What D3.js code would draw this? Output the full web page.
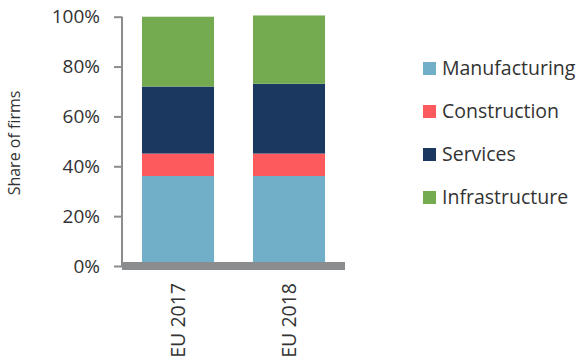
<!DOCTYPE html>
<html><head><meta charset="utf-8">
<script src="https://cdn.jsdelivr.net/npm/d3@7"></script>
<style>body{margin:0;background:#fff}svg{display:block}text{font-family:"Open Sans",sans-serif;fill:#333}</style>
</head><body>
<script>
const categories = ["EU 2017", "EU 2018"];
const seriesNames = ["Manufacturing", "Construction", "Services", "Infrastructure"];
const manufacturing = [36.1, 36.1];
const construction = [9.0, 9.0];
const services = [26.9, 28.0];
const infrastructure = [28.0, 27.4];
const yTicks = [0, 20, 40, 60, 80, 100];
const colors = ["#71afc8", "#fd5a5e", "#1a3860", "#74ab50"];

const W = 580, H = 361;
const svg = d3.select("body").append("svg").attr("width", W).attr("height", H);
const rows = categories.map((c, i) => ({cat: c, Manufacturing: manufacturing[i], Construction: construction[i], Services: services[i], Infrastructure: infrastructure[i]}));
const stack = d3.stack().keys(seriesNames)(rows);

const x = d3.scaleBand().domain(categories).range([122, 345]).paddingInner(0.351).paddingOuter(0.18);
const y = d3.scaleLinear().domain([0, 100]).range([266, 16.7]);

// bars
svg.append("g").selectAll("g").data(stack).join("g").attr("fill", (d, i) => colors[i])
  .selectAll("rect").data(d => d).join("rect")
  .attr("x", d => x(d.data.cat)).attr("width", x.bandwidth())
  .attr("y", d => y(d[1])).attr("height", d => y(d[0]) - y(d[1]));

// y axis
const yAxis = svg.append("g").attr("transform", "translate(122,0)")
  .call(d3.axisLeft(y).tickValues(yTicks).tickFormat(d => d + "%").tickSize(8).tickPadding(14));
yAxis.select(".domain").attr("stroke", "#8a8c8e").attr("stroke-width", 2).attr("d", "M0," + y(100) + "V" + y(0));
yAxis.selectAll(".tick line").attr("stroke", "#8a8c8e").attr("stroke-width", 2);
yAxis.selectAll(".tick text").attr("font-size", 19).attr("font-family", "Open Sans").attr("fill", "#333");

// x axis thick baseline
svg.append("line").attr("x1", 122).attr("x2", 345).attr("y1", y(0)).attr("y2", y(0))
  .attr("stroke", "#8a8c8e").attr("stroke-width", 8);

// x labels
svg.append("g").selectAll("text").data(categories).join("text")
  .attr("transform", d => `translate(${x(d) + x.bandwidth() / 2 + 7},283) rotate(-90)`)
  .attr("text-anchor", "end").attr("font-size", 19.5).text(d => d);

// y title
svg.append("text").attr("transform", "translate(20,143) rotate(-90)")
  .attr("text-anchor", "middle").attr("font-size", 16).text("Share of firms");

// legend
const lg = svg.append("g").selectAll("g").data(seriesNames).join("g")
  .attr("transform", (d, i) => `translate(423,${68.5 + i * 43})`);
lg.append("rect").attr("x", 0).attr("y", -6.5).attr("width", 13).attr("height", 13).attr("fill", (d, i) => colors[i]);
lg.append("text").attr("x", 19).attr("y", 0).attr("dy", "0.35em").attr("font-size", 19.5).text(d => d);
</script>
</body></html>
